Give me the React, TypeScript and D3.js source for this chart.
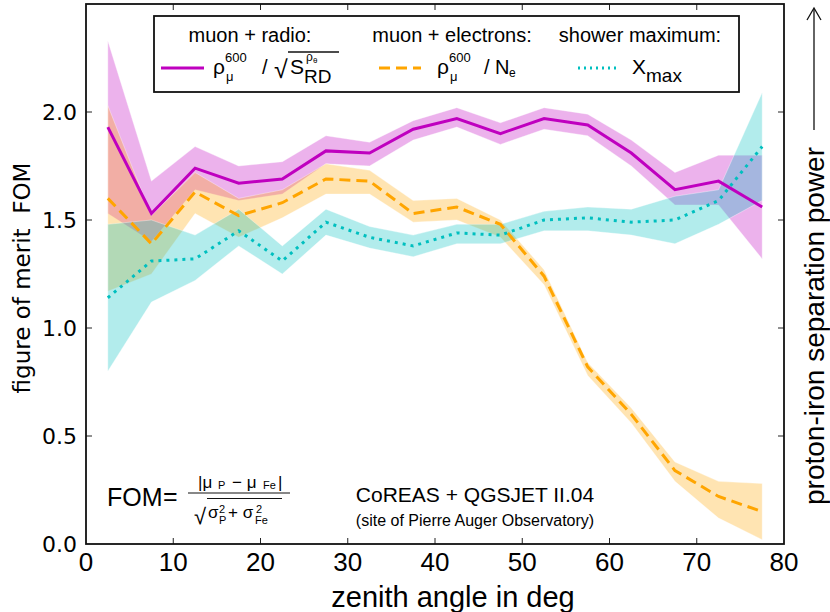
import * as d3 from "d3";

const angles = [2.5, 7.5, 12.5, 17.5, 22.5, 27.5, 32.5, 37.5, 42.5, 47.5, 52.5, 57.5, 62.5, 67.5, 72.5, 77.5];

// muon + radio
const radioFom = [1.93, 1.53, 1.74, 1.67, 1.69, 1.82, 1.81, 1.92, 1.97, 1.9, 1.97, 1.94, 1.81, 1.64, 1.68, 1.56];
const radioLo = [1.53, 1.4, 1.64, 1.59, 1.62, 1.76, 1.75, 1.87, 1.93, 1.85, 1.92, 1.89, 1.75, 1.57, 1.57, 1.32];
const radioHi = [2.33, 1.68, 1.84, 1.75, 1.77, 1.89, 1.86, 1.96, 2.02, 1.95, 2.02, 1.99, 1.87, 1.72, 1.8, 1.8];

// muon + electrons
const elecFom = [1.6, 1.39, 1.63, 1.52, 1.58, 1.69, 1.68, 1.53, 1.56, 1.48, 1.24, 0.82, 0.6, 0.34, 0.22, 0.15];
const elecLo = [1.17, 1.25, 1.53, 1.42, 1.51, 1.62, 1.62, 1.49, 1.5, 1.42, 1.2, 0.78, 0.56, 0.29, 0.12, 0.02];
const elecHi = [2.03, 1.52, 1.72, 1.6, 1.64, 1.76, 1.73, 1.59, 1.6, 1.5, 1.27, 0.84, 0.63, 0.38, 0.29, 0.28];

// shower maximum
const xmaxFom = [1.14, 1.31, 1.32, 1.45, 1.31, 1.49, 1.42, 1.38, 1.44, 1.43, 1.5, 1.51, 1.49, 1.5, 1.59, 1.84];
const xmaxLo = [0.8, 1.12, 1.22, 1.38, 1.25, 1.43, 1.37, 1.33, 1.39, 1.39, 1.45, 1.45, 1.43, 1.39, 1.48, 1.59];
const xmaxHi = [1.48, 1.5, 1.43, 1.55, 1.38, 1.55, 1.47, 1.43, 1.48, 1.48, 1.54, 1.56, 1.55, 1.61, 1.64, 2.09];

const xTicks = [0, 10, 20, 30, 40, 50, 60, 70, 80];
const yTicks = [0, 0.5, 1.0, 1.5, 2.0];

const MAGENTA = "#bf00bf";
const ORANGE = "#ffa500";
const CYAN = "#00bfbf";

const sans = "'Liberation Sans', Arial, sans-serif";
const deja = "'DejaVu Sans', sans-serif";

const W = 830;
const H = 612;
const plot = { left: 86, right: 784, top: 4, bottom: 544 };

const x = d3.scaleLinear().domain([0, 80]).range([plot.left, plot.right]);
const y = d3.scaleLinear().domain([0, 2.5]).range([plot.bottom, plot.top]);

const line = d3
  .line<number>()
  .x((_, i) => x(angles[i]))
  .y((d) => y(d));

const band = (lo: number[], hi: number[]) =>
  d3
    .area<number>()
    .x((_, i) => x(angles[i]))
    .y0((_, i) => y(lo[i]))
    .y1((d) => y(d))(hi) ?? "";

const series = [
  { fom: radioFom, lo: radioLo, hi: radioHi, color: MAGENTA, dash: "none" },
  { fom: elecFom, lo: elecLo, hi: elecHi, color: ORANGE, dash: "11,6" },
  { fom: xmaxFom, lo: xmaxLo, hi: xmaxHi, color: CYAN, dash: "3,5" },
];

const App = () => {
  const tickLen = 6;
  return (
    <svg width={W} height={H} style={{ position: "absolute", left: 0, top: 0 }}>
      <rect width={W} height={H} fill="white" />

      {/* error bands */}
      {series.map((s, i) => (
        <path
          key={`band-${i}`}
          d={band(s.lo, s.hi)}
          fill={s.color}
          fillOpacity={0.3}
          stroke="white"
          strokeOpacity={0.35}
          strokeWidth={1}
        />
      ))}

      {/* lines */}
      {series.map((s, i) => (
        <path
          key={`line-${i}`}
          d={line(s.fom) ?? ""}
          fill="none"
          stroke={s.color}
          strokeWidth={3}
          strokeDasharray={s.dash}
        />
      ))}

      {/* ticks, inward on all four sides */}
      {xTicks.slice(1, -1).map((t) => (
        <g key={`xt-${t}`} stroke="#222" strokeWidth={1}>
          <line x1={x(t)} x2={x(t)} y1={plot.bottom} y2={plot.bottom - tickLen} />
          <line x1={x(t)} x2={x(t)} y1={plot.top} y2={plot.top + tickLen} />
        </g>
      ))}
      {yTicks.slice(1).map((t) => (
        <g key={`yt-${t}`} stroke="#222" strokeWidth={1}>
          <line x1={plot.left} x2={plot.left + tickLen} y1={y(t)} y2={y(t)} />
          <line x1={plot.right} x2={plot.right - tickLen} y1={y(t)} y2={y(t)} />
        </g>
      ))}

      <rect
        x={plot.left}
        y={plot.top}
        width={plot.right - plot.left}
        height={plot.bottom - plot.top}
        fill="none"
        stroke="#111"
        strokeWidth={1.8}
      />

      {/* tick labels */}
      {xTicks.map((t) => (
        <text key={`xl-${t}`} x={x(t)} y={571} textAnchor="middle" fontFamily={sans} fontSize={26}>
          {t}
        </text>
      ))}
      {yTicks.map((t) => (
        <text
          key={`yl-${t}`}
          x={77}
          y={y(t) + 8}
          textAnchor="end"
          fontFamily={deja}
          fontSize={22}
        >
          {d3.format(".1f")(t)}
        </text>
      ))}

      {/* axis labels */}
      <text x={453} y={607} textAnchor="middle" fontFamily={sans} fontSize={29}>
        zenith angle in deg
      </text>
      <text
        transform={`translate(30, ${(plot.top + plot.bottom) / 2 + 4}) rotate(-90)`}
        textAnchor="middle"
        fontFamily={deja}
        fontSize={23}
        style={{ whiteSpace: "pre" }}
      >
        {"figure of merit  FOM"}
      </text>
      <text
        transform={`translate(824, 326) rotate(-90)`}
        textAnchor="middle"
        fontFamily={sans}
        fontSize={28}
      >
        proton-iron separation power
      </text>
      <line x1={814} x2={814} y1={130} y2={9} stroke="#111" strokeWidth={1.3} />
      <path d="M807,20 L814,8 L821,20" fill="none" stroke="#111" strokeWidth={1.3} />

      {/* legend */}
      <rect x={154} y={16} width={585} height={76} fill="white" stroke="#111" strokeWidth={1.8} />
      <g fontFamily={sans} fontSize={20}>
        <text x={250} y={42} textAnchor="middle">muon + radio:</text>
        <text x={452} y={42} textAnchor="middle">muon + electrons:</text>
        <text x={640} y={42} textAnchor="middle">shower maximum:</text>
      </g>
      <line x1={161} x2={204} y1={68} y2={68} stroke={MAGENTA} strokeWidth={3} />
      <line x1={379} x2={421} y1={68} y2={68} stroke={ORANGE} strokeWidth={3} strokeDasharray="11,6" />
      <line x1={578} x2={618} y1={68} y2={68} stroke={CYAN} strokeWidth={3} strokeDasharray="2,4" />

      <g fontFamily={sans}>
        <text x={213} y={74} fontSize={21}>ρ</text>
        <text x={225} y={62} fontSize={13}>600</text>
        <text x={226} y={81} fontSize={13}>μ</text>
        <text x={262} y={74} fontSize={20}>/</text>
        <text x={274} y={78} fontSize={25}>√</text>
        <line x1={288} x2={339} y1={52} y2={52} stroke="#111" strokeWidth={1.4} />
        <text x={290} y={74} fontSize={21}>S</text>
        <text x={306} y={61} fontSize={12}>ρ</text>
        <text x={313} y={63} fontSize={8}>θ</text>
        <text x={304} y={83} fontSize={19}>RD</text>

        <text x={437} y={74} fontSize={21}>ρ</text>
        <text x={449} y={62} fontSize={13}>600</text>
        <text x={450} y={81} fontSize={13}>μ</text>
        <text x={484} y={74} fontSize={20}>/ N</text>
        <text x={509} y={77} fontSize={12}>e</text>

        <text x={632} y={74} fontSize={21}>X</text>
        <text x={646} y={82} fontSize={19}>max</text>
      </g>

      {/* figure of merit formula */}
      <g fontFamily={sans}>
        <text x={107} y={506} fontSize={25}>FOM</text>
        <text x={163} y={505} fontSize={25}>=</text>
        <text x={198} y={488} fontSize={17}>|μ</text>
        <text x={218} y={489} fontSize={11}>P</text>
        <text x={232} y={488} fontSize={17}>− μ</text>
        <text x={263} y={489} fontSize={11}>Fe</text>
        <text x={278} y={488} fontSize={17}>|</text>
        <line x1={188} x2={290} y1={493} y2={493} stroke="#111" strokeWidth={1.2} />
        <text x={194} y={524} fontSize={22}>√</text>
        <line x1={207} x2={282} y1={498.5} y2={498.5} stroke="#111" strokeWidth={1} />
        <text x={208} y={518} fontSize={17}>σ</text>
        <text x={219} y={513} fontSize={11}>2</text>
        <text x={219} y={524} fontSize={11}>P</text>
        <text x={228} y={518} fontSize={17}>+ σ</text>
        <text x={256} y={513} fontSize={11}>2</text>
        <text x={255} y={524} fontSize={11}>Fe</text>
      </g>

      <g fontFamily={sans} textAnchor="middle">
        <text x={475} y={502} fontSize={21}>CoREAS + QGSJET II.04</text>
        <text x={475} y={526} fontSize={16}>(site of Pierre Auger Observatory)</text>
      </g>
    </svg>
  );
};

export default App;
